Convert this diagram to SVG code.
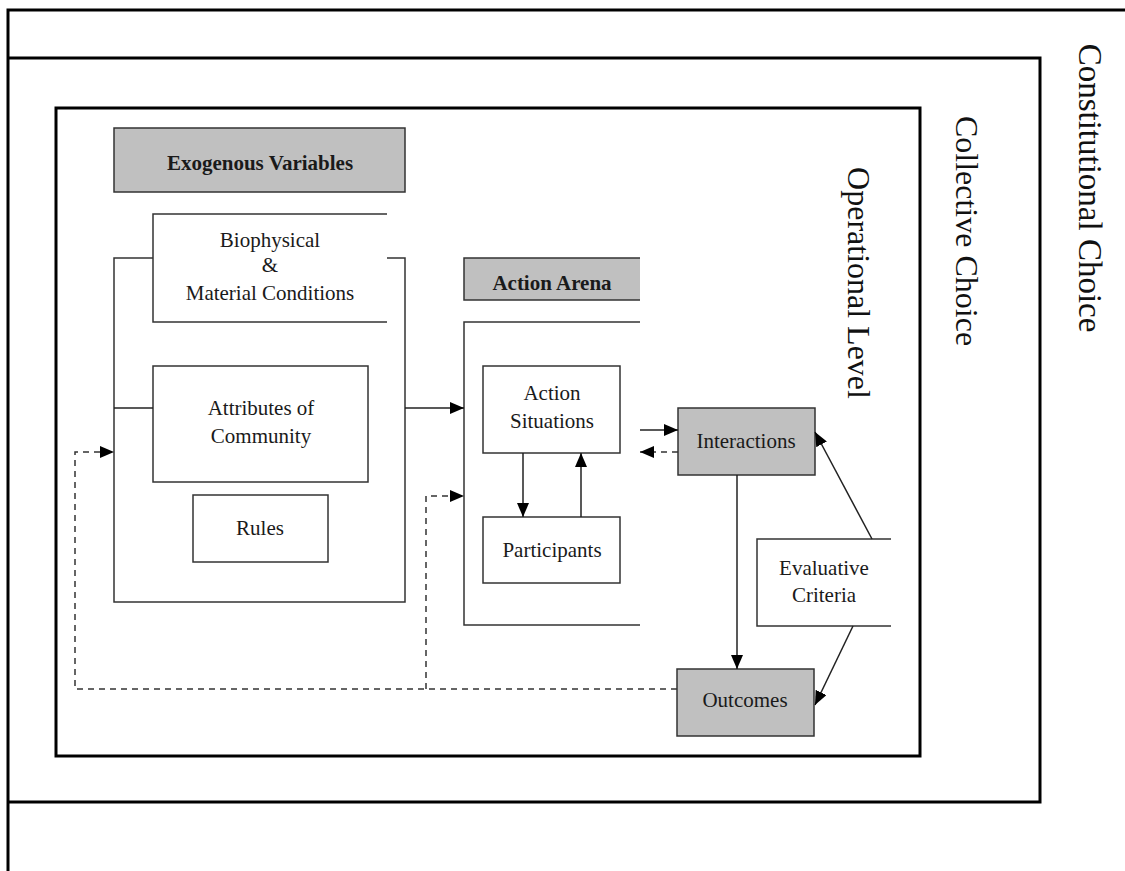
<svg xmlns="http://www.w3.org/2000/svg" width="1125" height="871" viewBox="0 0 1125 871">
<style>
.frame{fill:none;stroke:#000;stroke-width:3}
.box{fill:#fff;stroke:#333;stroke-width:1.5}
.gray{fill:#c0c0c0;stroke:#333;stroke-width:1.5}
.ln{fill:none;stroke:#333;stroke-width:1.5}
.con{fill:none;stroke:#222;stroke-width:1.5}
.dash{fill:none;stroke:#333;stroke-width:1.5;stroke-dasharray:6 5}
.t{font-family:"Liberation Serif","Times New Roman",serif;font-size:21px;fill:#1a1a1a;text-anchor:middle}
.b{font-weight:bold}
.v{font-family:"Liberation Serif","Times New Roman",serif;font-size:32px;fill:#111;text-anchor:middle}
</style>
<defs>
<marker id="ah" viewBox="0 0 14 12" refX="14" refY="6" markerWidth="14" markerHeight="12" orient="auto" markerUnits="userSpaceOnUse"><path d="M0,0 L14,6 L0,12 z" fill="#000"/></marker>
</defs>
<rect width="1125" height="871" fill="#fff"/>
<g id="constitutional">
<path class="frame" d="M1125,10 H8 V871"/>
<text class="v" style="font-size:33px" transform="translate(1079,188) rotate(90)">Constitutional Choice</text>
</g>
<g id="collective">
<path class="frame" d="M8,58 H1040 V802 H8"/>
<text class="v" transform="translate(956,231) rotate(90)">Collective Choice</text>
</g>
<g id="operational">
<rect class="frame" x="56" y="108" width="864" height="648"/>
<text class="v" transform="translate(848,283) rotate(90)">Operational Level</text>
</g>
<g id="exogenous">
<rect class="gray" x="114" y="128" width="291" height="64"/>
<text class="t b" x="260" y="170">Exogenous Variables</text>
</g>
<g id="exogenous-container">
<path class="ln" d="M153,258 H114 V602 H405 V258 H387"/>
</g>
<g id="biophysical">
<rect x="153" y="214" width="234" height="108" fill="#fff"/>
<path class="ln" d="M387,214 H153 V322 H387"/>
<text class="t" x="270" y="247">Biophysical</text>
<text class="t" x="270" y="272">&amp;</text>
<text class="t" x="270" y="300">Material Conditions</text>
</g>
<g id="attributes">
<rect class="box" x="153" y="366" width="215" height="116"/>
<text class="t" x="261" y="415">Attributes of</text>
<text class="t" x="261" y="443">Community</text>
</g>
<g id="rules">
<rect class="box" x="193" y="495" width="135" height="67"/>
<text class="t" x="260" y="535">Rules</text>
</g>
<g id="action-arena">
<rect x="464" y="258" width="176" height="42" fill="#c0c0c0"/>
<path class="ln" d="M640,258 H464 V300 H640"/>
<text class="t b" x="552" y="290">Action Arena</text>
</g>
<g id="action-arena-container">
<path class="ln" d="M640,322 H464 V625 H640"/>
</g>
<g id="action-situations">
<rect class="box" x="483" y="366" width="137" height="87"/>
<text class="t" x="552" y="400">Action</text>
<text class="t" x="552" y="428">Situations</text>
</g>
<g id="participants">
<rect class="box" x="483" y="517" width="137" height="66"/>
<text class="t" x="552" y="557">Participants</text>
</g>
<g id="interactions">
<rect class="gray" x="678" y="408" width="137" height="67"/>
<text class="t" x="746" y="448">Interactions</text>
</g>
<g id="evaluative">
<rect x="757" y="539" width="134" height="87" fill="#fff"/>
<path class="ln" d="M891,539 H757 V626 H891"/>
<text class="t" x="824" y="575">Evaluative</text>
<text class="t" x="824" y="602">Criteria</text>
</g>
<g id="outcomes">
<rect class="gray" x="677" y="669" width="137" height="67"/>
<text class="t" x="745" y="707">Outcomes</text>
</g>
<g id="connectors">
<line class="con" x1="114" y1="408" x2="153" y2="408"/>
<line class="con" x1="405" y1="408" x2="464" y2="408" marker-end="url(#ah)"/>
<line class="con" x1="523" y1="453" x2="523" y2="517" marker-end="url(#ah)"/>
<line class="con" x1="581" y1="517" x2="581" y2="453" marker-end="url(#ah)"/>
<line class="con" x1="640" y1="430" x2="678" y2="430" marker-end="url(#ah)"/>
<line class="dash" x1="678" y1="452" x2="640" y2="452" marker-end="url(#ah)"/>
<line class="con" x1="737" y1="475" x2="737" y2="669" marker-end="url(#ah)"/>
<line class="con" x1="872" y1="539" x2="815" y2="432" marker-end="url(#ah)"/>
<line class="con" x1="853" y1="626" x2="815" y2="705" marker-end="url(#ah)"/>
<path class="dash" d="M677,689 H75 V452 H114" marker-end="url(#ah)"/>
<path class="dash" d="M426,689 V496 H464" marker-end="url(#ah)"/>
</g>
</svg>
